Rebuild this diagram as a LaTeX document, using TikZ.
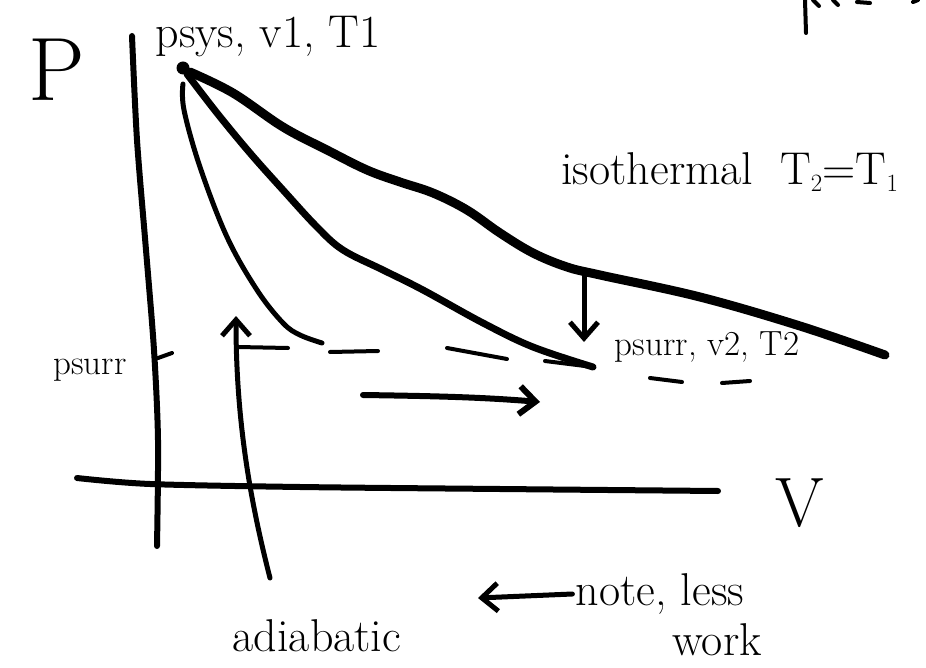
\documentclass[tikz,border=0pt]{standalone}
\usepackage{fontspec}
\usetikzlibrary{arrows.meta}
\tikzset{
  hand/.style={font=\fontsize{46}{50}\selectfont},
  handsmall/.style={font=\fontsize{35}{38}\selectfont},
  dashline/.style={line width=4pt},
  barb/.style={-{Straight Barb[length=16pt,width=28pt]}, line width=5pt}
}

\begin{document}
\begin{tikzpicture}[x=1pt, y=-1pt, line cap=round, line join=round]
    \useasboundingbox (0,0) rectangle (926,668);
    % axes
    \draw[line width=6pt] plot[smooth] coordinates {(132,36) (137,140) (146,250) (154,350) (158,440) (157,546)};
    \draw[line width=6pt] plot[smooth] coordinates {(77,478) (150,484) (300,487) (500,489) (718,491)};
    \draw[line width=4pt] (158,358) -- (172,353);
    \node[font=\fontsize{90}{90}\selectfont] (plab) at (57,70) {P};
    \node[font=\fontsize{70}{70}\selectfont] (vlab) at (800,503) {V};
    \node[handsmall] (psurr) at (90,370) {psurr};
    % states
    \node[circle, fill, inner sep=0pt, minimum size=13pt] (s) at (183,68) {};
    \coordinate (e) at (593,367);
    \node[hand, anchor=south west] (slab) at (152,60) {psys, v1, T1};
    \node[handsmall] (elab) at (707,347) {psurr, v2, T2};
    % isothermal
    \draw[line width=9pt] plot[smooth, tension=0.6] coordinates {(190,72) (233,93) (283,127) (327,150) (367,170) (400,182) (433,193) (467,210) (500,233) (533,253) (567,267) (600,275) (700,297) (800,326) (885,355)};
    \node[hand] (iso) at (730,172) {isothermal\; T$_2$=T$_1$};
    % irreversible path to psurr
    \draw[line width=7pt] plot[smooth, tension=0.6] coordinates {(187,74) (217,113) (250,153) (283,190) (317,227) (343,250) (383,270) (423,290) (483,323) (533,347) (e)};
    % adiabatic
    \draw[line width=5pt] plot[smooth, tension=0.6] coordinates {(183,84) (184,110) (200,167) (227,237) (257,290) (283,323) (300,335) (322,343)};
    % psurr line
    \foreach \xa/\ya/\xb/\yb in {238/347/288/348, 330/352/378/351, 447/348/507/359, 545/361/593/367, 650/378/682/382, 722/383/750/381}
        \draw[dashline] (\xa,\ya) -- (\xb,\yb);
    % arrows
    \coordinate (isopt) at (584,276);
    \coordinate (dwntip) at (584,342);
    \draw[barb] (isopt) -- (dwntip);
    \coordinate (rgta) at (363,395);
    \coordinate (rgtb) at (540,402);
    \draw[barb, line width=6pt] (rgta) .. controls (430,396) and (480,397) .. (rgtb);
    % labels at bottom
    \node[hand] (adi) at (317,636) {adiabatic};
    \coordinate (adtail) at (270,578);
    \coordinate (adtip) at (236,316);
    \draw[barb] (adtail) .. controls (250,500) and (236,420) .. (adtip);
    \node[hand] (note) at (660,594) {note, less};
    \node[hand] (work) at (717,640) {work};
    \coordinate (notetip) at (478,598);
    \draw[barb] (note.west) -- (notetip);
    % cut off at top right
    \draw[line width=4pt] (805,0) -- (806,33);
    \draw[line width=4pt] (813,0) -- (819,6);
    \draw[line width=4pt] (833,0) -- (838,5);
    \draw[line width=4pt] (857,2) -- (870,3);
    \draw[line width=4pt] (913,2) -- (918,0);
\end{tikzpicture}
\end{document}
